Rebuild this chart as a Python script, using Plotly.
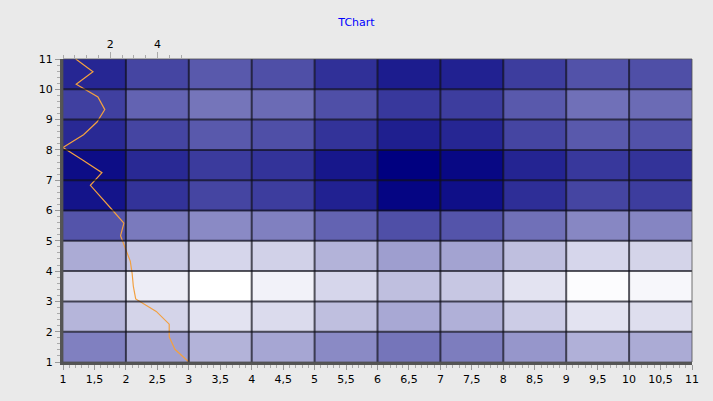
import plotly.graph_objects as go

# Heatmap cells: columns centred at 1.5..10.5, rows centred at 1.5..10.5 (bottom to top)
col_centers = [1.5, 2.5, 3.5, 4.5, 5.5, 6.5, 7.5, 8.5, 9.5, 10.5]
row_centers = [1.5, 2.5, 3.5, 4.5, 5.5, 6.5, 7.5, 8.5, 9.5, 10.5]
row1 = [0.50, 0.37, 0.30, 0.35, 0.46, 0.54, 0.51, 0.41, 0.31, 0.33]
row2 = [0.29, 0.17, 0.11, 0.14, 0.25, 0.34, 0.31, 0.20, 0.11, 0.13]
row3 = [0.18, 0.07, 0.00, 0.05, 0.16, 0.25, 0.22, 0.11, 0.01, 0.03]
row4 = [0.33, 0.22, 0.16, 0.18, 0.30, 0.38, 0.36, 0.25, 0.16, 0.17]
row5 = [0.67, 0.52, 0.46, 0.50, 0.61, 0.69, 0.67, 0.56, 0.47, 0.48]
row6 = [0.92, 0.80, 0.73, 0.76, 0.87, 0.98, 0.94, 0.82, 0.73, 0.76]
row7 = [0.95, 0.84, 0.77, 0.80, 0.91, 1.00, 0.97, 0.86, 0.78, 0.80]
row8 = [0.84, 0.73, 0.65, 0.69, 0.80, 0.88, 0.85, 0.73, 0.65, 0.68]
row9 = [0.75, 0.61, 0.54, 0.58, 0.69, 0.78, 0.76, 0.65, 0.56, 0.58]
row10 = [0.85, 0.73, 0.65, 0.69, 0.81, 0.89, 0.87, 0.76, 0.68, 0.69]
z_rows = [row1, row2, row3, row4, row5, row6, row7, row8, row9, row10]

# Orange line (horizontal line series on the top axis)
line_y = [11.0, 10.58, 10.17, 9.75, 9.33, 8.92, 8.5, 8.08, 7.67, 7.25, 6.83, 6.42, 6.0,
          5.58, 5.17, 4.75, 4.33, 3.92, 3.5, 3.08, 2.67, 2.25, 1.83, 1.42, 1.0]
line_x = [0.54, 1.27, 0.56, 1.48, 1.77, 1.44, 0.87, 0.0, 0.83, 1.65, 1.16, 1.64, 2.11,
          2.58, 2.44, 2.64, 2.85, 2.93, 2.98, 3.08, 3.95, 4.5, 4.5, 4.74, 5.33]

# Tick labels
bottom_tickvals = [1, 1.5, 2, 2.5, 3, 3.5, 4, 4.5, 5, 5.5, 6, 6.5, 7, 7.5, 8, 8.5, 9, 9.5, 10, 10.5, 11]
bottom_ticktext = ["1", "1,5", "2", "2,5", "3", "3,5", "4", "4,5", "5", "5,5", "6", "6,5",
                   "7", "7,5", "8", "8,5", "9", "9,5", "10", "10,5", "11"]
left_tickvals = [1, 2, 3, 4, 5, 6, 7, 8, 9, 10, 11]
top_tickvals = [2, 4]
grid_edges = [2, 3, 4, 5, 6, 7, 8, 9, 10]

font = "DejaVu Sans, Verdana, sans-serif"

fig = go.Figure()
fig.add_trace(go.Heatmap(
    x=col_centers, y=row_centers, z=z_rows,
    zmin=0, zmax=1,
    colorscale=[[0, "#FFFFFF"], [1, "#000080"]],
    showscale=False, hoverinfo="skip",
))
fig.add_trace(go.Scatter(
    x=line_x, y=line_y, xaxis="x2", yaxis="y",
    mode="lines", line=dict(color="#F2A040", width=1.2),
    showlegend=False, hoverinfo="skip",
))

shapes = []
for e in grid_edges:
    shapes.append(dict(type="line", xref="x", yref="paper", x0=e, x1=e, y0=0, y1=1,
                       line=dict(color="rgba(15,15,25,0.7)", width=2), layer="above"))
    shapes.append(dict(type="line", xref="paper", yref="y", x0=0, x1=1, y0=e, y1=e,
                       line=dict(color="rgba(15,15,25,0.7)", width=2), layer="above"))
# frame top/right
shapes.append(dict(type="rect", xref="paper", yref="paper", x0=0, x1=1, y0=0, y1=1,
                   line=dict(color="rgba(80,80,80,0.8)", width=1), layer="above"))

fig.update_layout(
    width=713, height=401,
    margin=dict(l=63, r=21, t=59, b=39),
    paper_bgcolor="#EAEAEA", plot_bgcolor="rgba(0,0,0,0)",
    title=dict(text="TChart", x=0.5, xanchor="center", y=0.945, yanchor="middle",
               font=dict(family=font, size=11, color="#0000FF")),
    showlegend=False,
    shapes=shapes,
    font=dict(family=font, size=11, color="#000000"),
    xaxis=dict(
        range=[1, 11], tickvals=bottom_tickvals, ticktext=bottom_ticktext,
        showgrid=False, zeroline=False,
        showline=True, linecolor="#555555", linewidth=3,
        ticks="outside", ticklen=5, tickcolor="#999999", tickwidth=1,
        tickfont=dict(family=font, size=11, color="#000000"),
        minor=dict(dtick=0.1, ticks="outside", ticklen=3, tickcolor="#AAAAAA", showgrid=False),
    ),
    yaxis=dict(
        range=[1, 11], tickvals=left_tickvals,
        showgrid=False, zeroline=False,
        showline=True, linecolor="#555555", linewidth=3,
        ticks="outside", ticklen=5, tickcolor="#999999", tickwidth=1,
        tickfont=dict(family=font, size=11, color="#000000"),
        minor=dict(dtick=0.2, ticks="outside", ticklen=3, tickcolor="#AAAAAA", showgrid=False),
    ),
    xaxis2=dict(
        domain=[0, 0.2], anchor="y", side="top",
        range=[0, 5.33], tickvals=top_tickvals,
        showgrid=False, zeroline=False, showline=False,
        ticks="outside", ticklen=6, tickcolor="#AAAAAA", tickwidth=1,
        tickfont=dict(family=font, size=11, color="#000000"),
        minor=dict(dtick=0.5, ticks="outside", ticklen=3, tickcolor="#AAAAAA", showgrid=False),
    ),
)

fig.write_html("out.html", config={"displayModeBar": False},
               post_script="document.body.style.margin='0';")
